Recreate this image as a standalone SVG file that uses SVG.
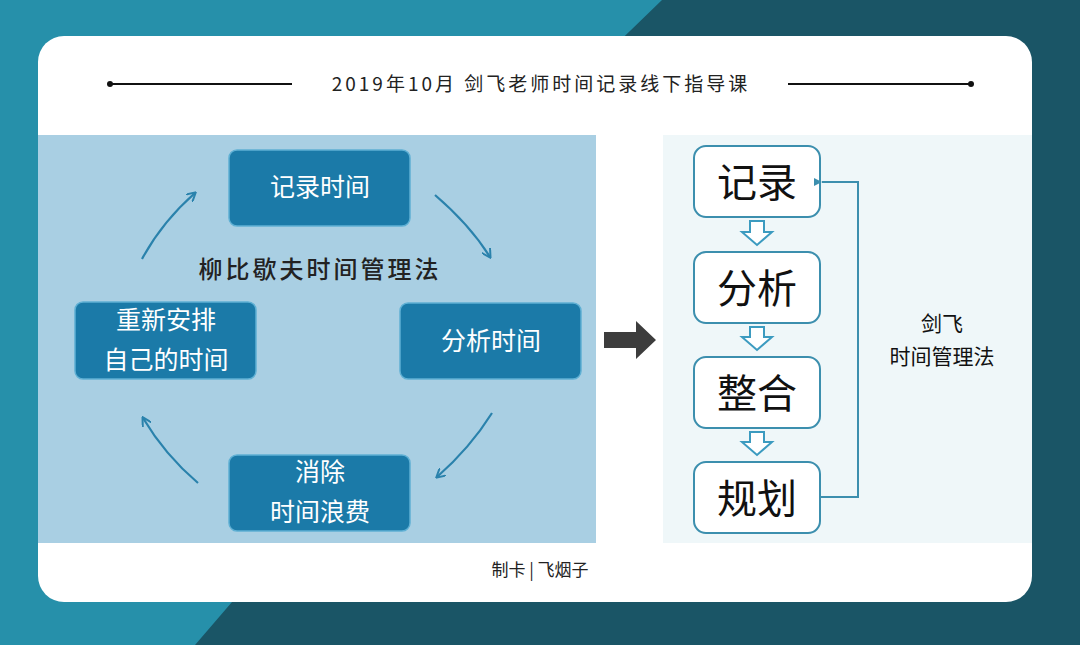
<svg xmlns="http://www.w3.org/2000/svg" width="1080" height="645" viewBox="0 0 1080 645">
<defs>
<style>
.t{font-family:"Noto Sans CJK SC","Noto Sans",sans-serif}
.lb{fill:#1b7aa8;stroke:#5fb0d4;stroke-width:1.5}
.lt{fill:#fff;font-size:25px;text-anchor:middle}
.rb{fill:#fff;stroke:#3c8fae;stroke-width:2}
.rt{fill:#111;font-size:40px;text-anchor:middle}
.cv{fill:none;stroke:#2a82ac;stroke-width:2.2}
.ha{fill:#fff;stroke:#3c9bc0;stroke-width:2}
</style>
<marker id="ah" markerWidth="10" markerHeight="10" refX="8" refY="5" orient="auto" markerUnits="userSpaceOnUse"><path d="M0,0 L9,5 L0,10" fill="none" stroke="#2a82ac" stroke-width="2"/></marker>
<marker id="fb" markerWidth="10" markerHeight="10" refX="1" refY="5" orient="auto-start-reverse" markerUnits="userSpaceOnUse"><path d="M9,1 L1,5 L9,9 Z" fill="#3c8fae"/></marker>
</defs>
<rect width="1080" height="645" fill="#2690aa"/>
<polygon points="662,0 1080,0 1080,645 195,645 232,602 600,60" fill="#1a5566"/>
<rect x="38" y="36" width="994" height="566" rx="26" fill="#fff"/>
<g id="title">
<line x1="110" y1="84" x2="292" y2="84" stroke="#111" stroke-width="2"/><circle cx="110" cy="84" r="3" fill="#111"/>
<line x1="788" y1="84" x2="971" y2="84" stroke="#111" stroke-width="2"/><circle cx="971" cy="84" r="3" fill="#111"/>
<text x="541" y="91" class="t" font-size="19" text-anchor="middle" fill="#222" letter-spacing="3">2019年10月 剑飞老师时间记录线下指导课</text>
</g>
<rect x="38" y="135" width="558" height="408" fill="#a9cfe3"/>
<rect x="663" y="135" width="369" height="408" fill="#eff7f9"/>
<g id="n1"><rect class="lb" x="229" y="150" width="181" height="76" rx="8"/><text class="t lt" x="320" y="196">记录时间</text></g>
<g id="n2"><rect class="lb" x="400" y="303" width="181" height="76" rx="8"/><text class="t lt" x="491" y="350">分析时间</text></g>
<g id="n3"><rect class="lb" x="229" y="455" width="181" height="76" rx="8"/><text class="t lt" x="320" y="481">消除</text><text class="t lt" x="320" y="521">时间浪费</text></g>
<g id="n4"><rect class="lb" x="75" y="302" width="181" height="77" rx="8"/><text class="t lt" x="166" y="329">重新安排</text><text class="t lt" x="166" y="369">自己的时间</text></g>
<text class="t" x="320" y="278" font-size="24" text-anchor="middle" fill="#222" font-weight="500" letter-spacing="3">柳比歇夫时间管理法</text>
<g id="r1"><rect class="rb" x="694" y="146" width="126" height="71" rx="12"/><text class="t rt" x="757" y="197">记录</text></g>
<g id="r2"><rect class="rb" x="694" y="252" width="126" height="71" rx="12"/><text class="t rt" x="757" y="303">分析</text></g>
<g id="r3"><rect class="rb" x="694" y="357" width="126" height="71" rx="12"/><text class="t rt" x="757" y="408">整合</text></g>
<g id="r4"><rect class="rb" x="694" y="462" width="126" height="71" rx="12"/><text class="t rt" x="757" y="513">规划</text></g>
<g id="lbl"><text class="t" x="942" y="331" font-size="21" text-anchor="middle" fill="#111">剑飞</text><text class="t" x="942" y="364" font-size="21" text-anchor="middle" fill="#111">时间管理法</text></g>
<text class="t" x="540" y="576" font-size="17" text-anchor="middle" fill="#222">制卡 | 飞烟子</text>
<g id="connectors">
<path class="cv" d="M142,259 Q162,222 195,193" marker-end="url(#ah)"/>
<path class="cv" d="M435,195 Q470,225 490,257" marker-end="url(#ah)"/>
<path class="cv" d="M492,413 Q470,448 437,477" marker-end="url(#ah)"/>
<path class="cv" d="M198,483 Q165,455 143,418" marker-end="url(#ah)"/>
<polygon points="604,332 636,332 636,321 656,340 636,359 636,348 604,348" fill="#3d3d3d"/>
<polygon class="ha" points="750,221 764,221 764,232 772,232 757,245 742,232 750,232"/>
<polygon class="ha" points="750,327 764,327 764,337 772,337 757,350 742,337 750,337"/>
<polygon class="ha" points="750,432 764,432 764,442 772,442 757,455 742,442 750,442"/>
<polyline points="821,497 858,497 858,182 822,182" fill="none" stroke="#3c8fae" stroke-width="2" marker-end="url(#fb)"/>
</g>
</svg>
